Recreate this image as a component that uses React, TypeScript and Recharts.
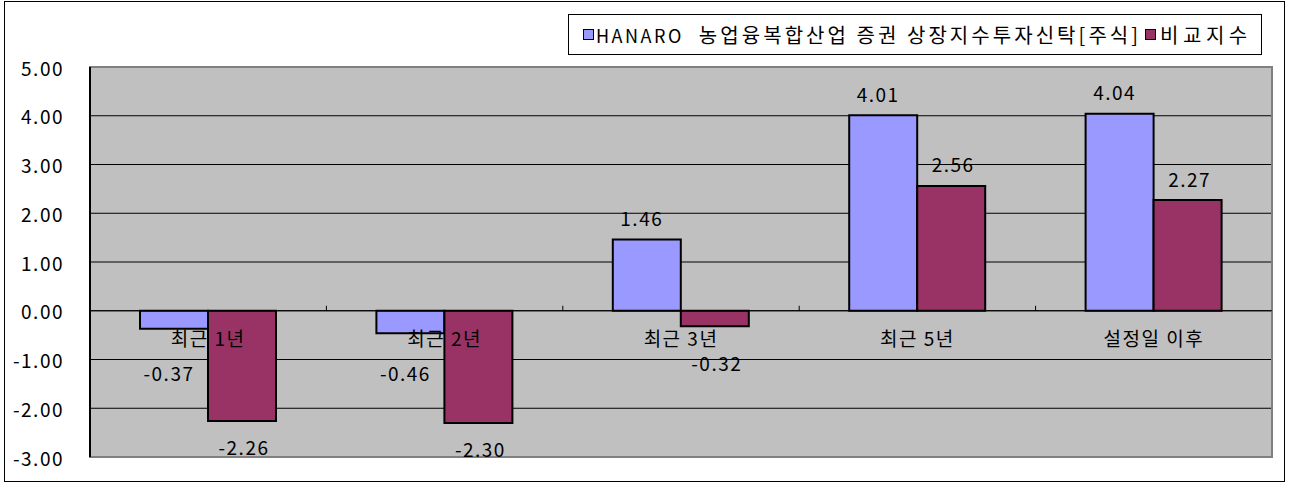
import React from "react";
import {
  Bar,
  BarChart,
  CartesianGrid,
  LabelList,
  ReferenceArea,
  ReferenceLine,
  XAxis,
  YAxis,
} from "recharts";

const categories = ["최근 1년", "최근 2년", "최근 3년", "최근 5년", "설정일 이후"];
const fundValues = [-0.37, -0.46, 1.46, 4.01, 4.04];
const indexValues = [-2.26, -2.3, -0.32, 2.56, 2.27];
const yTicks = [-3, -2, -1, 0, 1, 2, 3, 4, 5];

const FUND_PREFIX = "HANARO";
const FUND_NAME = "  농업융복합산업 증권 상장지수투자신탁[주식]";
const INDEX_NAME = "비교지수";

const W = 1290;
const H = 485;
const TOP = 67;
const BOTTOM = 28;
const LEFT = 90;
const RIGHT = 18;
const Y_MIN = -3;
const Y_MAX = 5;
const PLOT_H = H - TOP - BOTTOM;
const PLOT_W = W - LEFT - RIGHT;
const ZERO_Y = TOP + ((Y_MAX - 0) / (Y_MAX - Y_MIN)) * PLOT_H;

const FONT = "'Noto Sans CJK KR', 'DejaVu Sans', sans-serif";
const BLUE = "#9999FF";
const RED = "#993366";

const data = categories.map((c, i) => ({
  name: c,
  fund: fundValues[i],
  index: indexValues[i],
}));

function CategoryTick(props: any) {
  const { x, payload, index } = props;
  const band = PLOT_W / categories.length;
  return (
    <g>
      <text
        x={x}
        y={ZERO_Y + 27}
        textAnchor="middle"
        dominantBaseline="central"
        fontFamily={FONT}
        fontSize={19}
        letterSpacing={1.5}
        fill="#000"
      >
        {payload.value}
      </text>
      {index < categories.length - 1 && (
        <line
          x1={x + band / 2}
          x2={x + band / 2}
          y1={ZERO_Y}
          y2={ZERO_Y - 5}
          stroke="#000"
        />
      )}
    </g>
  );
}

function YTick(props: any) {
  const { y, payload } = props;
  return (
    <text
      x={64}
      y={y}
      textAnchor="end"
      dominantBaseline="central"
      fontFamily={FONT}
      fontSize={19}
      letterSpacing={1.5}
      fill="#000"
    >
      {payload.value.toFixed(2)}
    </text>
  );
}

// short negative labels go below the category label, as excel does
function makeLabel(minBelow: number, shift: number) {
  return function ValueLabel(props: any) {
    const { x, y, width, height, value } = props;
    const top = Math.min(y, y + height);
    const bottom = Math.max(y, y + height);
    let ly = value >= 0 ? top - 22 : bottom + 26;
    if (value < 0) ly = Math.max(ly, ZERO_Y + minBelow);
    return (
      <text
        x={x + width / 2 + shift}
        y={ly}
        textAnchor="middle"
        dominantBaseline="central"
        fontFamily={FONT}
        fontSize={19}
        letterSpacing={1.5}
        fill="#000"
      >
        {value.toFixed(2)}
      </text>
    );
  };
}

const FundLabel = makeLabel(62, -5);
const IndexLabel = makeLabel(52, 2);

function LegendBox() {
  const sw = (c: string) => (
    <span
      style={{
        display: "inline-block",
        width: 9,
        height: 9,
        border: "1.5px solid #000",
        background: c,
        marginRight: 2,
      }}
    />
  );
  return (
    <div
      style={{
        position: "absolute",
        left: 568,
        top: 14,
        border: "1px solid #000",
        background: "#fff",
        width: 694,
        height: 41,
        boxSizing: "border-box",
        display: "flex",
        alignItems: "center",
        paddingLeft: 14,
        fontFamily: FONT,
        fontSize: 18,
        whiteSpace: "pre",
        color: "#000",
      }}
    >
      {sw(BLUE)}
      <span style={{ letterSpacing: 2.5 }}>{FUND_PREFIX}</span>
      <span style={{ letterSpacing: 3.05, fontSize: 20 }}>{FUND_NAME}</span>
      <span style={{ width: 4 }} />
      {sw(RED)}
      <span style={{ letterSpacing: 4.5, fontSize: 20, marginLeft: 2 }}>
        {INDEX_NAME}
      </span>
    </div>
  );
}

export default function App() {
  return (
    <div
      style={{
        position: "absolute",
        left: 0,
        top: 0,
        width: W,
        height: H,
        background: "#fff",
      }}
    >
      <BarChart
        width={W}
        height={H}
        data={data}
        margin={{ top: TOP, right: RIGHT, bottom: BOTTOM - 1, left: LEFT - 60 }}
        barGap={0}
        barSize={68}
        style={{ position: "absolute", left: 0, top: 0 }}
      >
        <CartesianGrid
          horizontal
          vertical={false}
          stroke="#000"
          fill="#C0C0C0"
          fillOpacity={1}
        />
        <ReferenceArea
          y1={Y_MIN}
          y2={Y_MAX}
          fill="none"
          stroke="#808080"
          strokeWidth={2}
          ifOverflow="visible"
        />
        <XAxis
          dataKey="name"
          axisLine={false}
          tickLine={false}
          height={1}
          tick={<CategoryTick />}
          interval={0}
        />
        <YAxis
          width={60}
          domain={[Y_MIN, Y_MAX]}
          ticks={yTicks}
          interval={0}
          axisLine={{ stroke: "#000", strokeWidth: 2 }}
          tickLine={false}
          tick={<YTick />}
        />
        <ReferenceLine y={0} stroke="#000" strokeWidth={1} />
        <Bar
          dataKey="fund"
          fill={BLUE}
          stroke="#000"
          strokeWidth={2}
          isAnimationActive={false}
        >
          <LabelList dataKey="fund" content={<FundLabel />} />
        </Bar>
        <Bar
          dataKey="index"
          fill={RED}
          stroke="#000"
          strokeWidth={2}
          isAnimationActive={false}
        >
          <LabelList dataKey="index" content={<IndexLabel />} />
        </Bar>
      </BarChart>
      <LegendBox />
      <div
        style={{
          position: "absolute",
          left: 4,
          top: 1,
          width: 1281,
          height: 481,
          border: "1.5px solid #000",
          boxSizing: "border-box",
          pointerEvents: "none",
        }}
      />
    </div>
  );
}
